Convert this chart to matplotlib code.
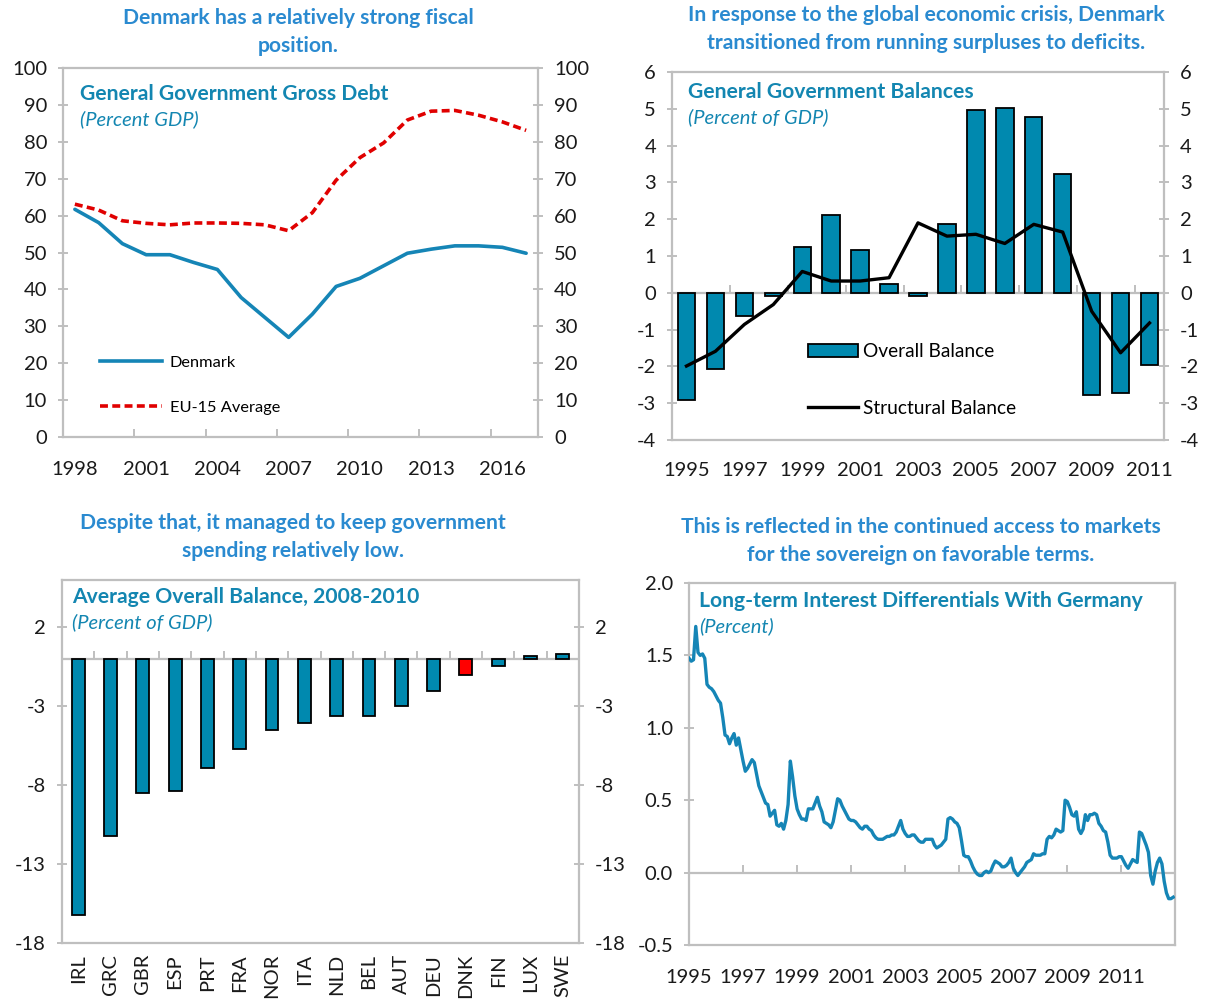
import matplotlib

matplotlib.use("Agg")
import matplotlib.pyplot as plt
import numpy as np
from matplotlib.lines import Line2D
from matplotlib.patches import Patch

plt.rcParams["font.family"] = ["Lato", "DejaVu Sans"]
plt.rcParams["axes.unicode_minus"] = False

W, H = 1210, 999

HEAD_BLUE = "#2A8AD0"
SUB_BLUE = "#1386B1"
BAR_TEAL = "#0089AF"
LINE_BLUE = "#1585B6"
FRAME = "#BFBFBF"
TEXT = "#1A1A1A"

# --- top left: gross debt
debt_years = list(range(1998, 2018))
debt_denmark = [61.7, 58.1, 52.4, 49.4, 49.4, 47.3, 45.4, 37.8, 32.4, 27.0,
                33.3, 40.8, 43.0, 46.4, 49.8, 50.9, 51.8, 51.8, 51.4, 49.8]
debt_eu15 = [63.1, 61.5, 58.6, 57.9, 57.5, 58.0, 58.0, 57.9, 57.5, 55.9,
             60.8, 69.6, 75.7, 79.7, 85.9, 88.3, 88.5, 87.2, 85.4, 83.1]

# --- top right: balances
bal_years = list(range(1995, 2012))
bal_overall = [-2.92, -2.06, -0.63, -0.1, 1.25, 2.12, 1.15, 0.23, -0.08,
               1.88, 4.98, 5.03, 4.77, 3.24, -2.78, -2.72, -1.96]
bal_structural = [-1.99, -1.59, -0.86, -0.32, 0.58, 0.32, 0.32, 0.41, 1.90,
                  1.54, 1.59, 1.34, 1.86, 1.65, -0.50, -1.63, -0.82]

# --- bottom left: average overall balance 2008-2010
countries = ["IRL", "GRC", "GBR", "ESP", "PRT", "FRA", "NOR", "ITA",
             "NLD", "BEL", "AUT", "DEU", "DNK", "FIN", "LUX", "SWE"]
avg_balance = [-16.2, -11.2, -8.5, -8.35, -6.9, -5.7, -4.5, -4.05,
               -3.6, -3.6, -3.0, -2.05, -1.0, -0.45, 0.2, 0.3]
highlight = "DNK"

# --- bottom right: monthly spread vs Germany, 1995-2012
spread_start = 1995
spread = [
    1.48, 1.46, 1.47, 1.70, 1.52, 1.50, 1.51, 1.48, 1.30, 1.28, 1.27, 1.25,  # 1995
    1.22, 1.19, 1.17, 1.07, 0.95, 0.94, 0.89, 0.93, 0.96, 0.88, 0.93, 0.85,  # 1996
    0.77, 0.70, 0.72, 0.75, 0.78, 0.76, 0.68, 0.60, 0.56, 0.52, 0.48, 0.47,  # 1997
    0.39, 0.41, 0.43, 0.33, 0.32, 0.34, 0.30, 0.36, 0.47, 0.77, 0.66, 0.53,  # 1998
    0.44, 0.40, 0.37, 0.37, 0.36, 0.44, 0.44, 0.44, 0.48, 0.52, 0.46, 0.42,  # 1999
    0.35, 0.34, 0.33, 0.31, 0.35, 0.43, 0.51, 0.50, 0.46, 0.43, 0.40, 0.37,  # 2000
    0.36, 0.36, 0.35, 0.33, 0.31, 0.30, 0.32, 0.32, 0.30, 0.29, 0.26, 0.24,  # 2001
    0.23, 0.23, 0.23, 0.24, 0.25, 0.25, 0.26, 0.26, 0.28, 0.32, 0.36, 0.30,  # 2002
    0.27, 0.25, 0.25, 0.26, 0.26, 0.24, 0.22, 0.21, 0.21, 0.23, 0.23, 0.23,  # 2003
    0.23, 0.19, 0.17, 0.18, 0.19, 0.21, 0.23, 0.37, 0.38, 0.37, 0.35, 0.34,  # 2004
    0.31, 0.22, 0.12, 0.11, 0.11, 0.08, 0.04, 0.01, -0.01, -0.02, -0.02, 0.00,  # 2005
    0.01, 0.00, 0.01, 0.05, 0.08, 0.07, 0.06, 0.04, 0.04, 0.05, 0.07, 0.10,  # 2006
    0.03, 0.00, -0.02, 0.00, 0.02, 0.04, 0.07, 0.08, 0.09, 0.13, 0.12, 0.12,  # 2007
    0.12, 0.13, 0.13, 0.23, 0.25, 0.24, 0.26, 0.30, 0.29, 0.28, 0.29, 0.50,  # 2008
    0.49, 0.45, 0.40, 0.39, 0.42, 0.30, 0.27, 0.30, 0.40, 0.36, 0.40, 0.40,  # 2009
    0.41, 0.40, 0.34, 0.32, 0.29, 0.28, 0.21, 0.12, 0.10, 0.10, 0.10, 0.11,  # 2010
    0.11, 0.08, 0.05, 0.03, 0.06, 0.09, 0.08, 0.07, 0.28, 0.27, 0.23, 0.19,  # 2011
    0.14, -0.02, -0.08, 0.01, 0.07, 0.10, 0.06, -0.06, -0.14, -0.18, -0.18, -0.17,  # 2012
]
spread_label_years = list(range(1995, 2012, 2))


def add_axes_px(fig, left, top, right, bottom):
    return fig.add_axes([left / W, 1 - bottom / H, (right - left) / W, (bottom - top) / H])


def style_frame(ax, right_labels=True, xpad=16):
    for spine in ax.spines.values():
        spine.set_color(FRAME)
        spine.set_linewidth(1.6)
    ax.tick_params(axis="y", direction="inout", length=7, width=1.4, color=FRAME,
                   left=True, right=right_labels, labelleft=True, labelright=right_labels,
                   labelsize=14.5, labelcolor=TEXT, pad=8)
    ax.tick_params(axis="x", length=0, labelsize=14.5, labelcolor=TEXT, pad=xpad)


def zero_ticks(ax, xs):
    ax.plot(xs, np.zeros(len(xs)), linestyle="none", marker=2, markersize=6,
            markeredgewidth=1.4, color=FRAME, zorder=1, clip_on=False)


def panel_heading(ax, title, unit, x, y):
    ax.text(x, y, title, transform=ax.transAxes, fontsize=15.2, fontweight="bold",
            color=SUB_BLUE, ha="left", va="center")
    ax.text(x, y - 0.068, unit, transform=ax.transAxes, fontsize=14.5, style="italic",
            color=SUB_BLUE, ha="left", va="center")


fig = plt.figure(figsize=(W / 100, H / 100), dpi=100)

heading_kw = dict(fontsize=15.2, fontweight="bold", color=HEAD_BLUE, ha="center",
                  va="center", linespacing=1.45)
fig.text(298 / W, 1 - 32 / H, "Denmark has a relatively strong fiscal\nposition.", **heading_kw)
fig.text(926 / W, 1 - 29 / H, "In response to the global economic crisis, Denmark\n"
         "transitioned from running surpluses to deficits.", **heading_kw)
fig.text(293 / W, 1 - 537 / H, "Despite that, it managed to keep government\n"
         "spending relatively low.", **heading_kw)
fig.text(921 / W, 1 - 541 / H, "This is reflected in the continued access to markets\n"
         "for the sovereign on favorable terms.", **heading_kw)

# top left
ax = add_axes_px(fig, 63, 68, 538, 437)
x = np.arange(len(debt_years))
ax.plot(x, debt_denmark, color=LINE_BLUE, lw=2.6, solid_capstyle="round", zorder=3)
ax.plot(x, debt_eu15, color="#E00000", lw=2.6, linestyle=(0, (2.2, 1.2)), zorder=3)
ax.set_xlim(-0.5, len(debt_years) - 0.5)
ax.set_ylim(0, 100)
ax.set_yticks(range(0, 101, 10))
ax.set_xticks(x[::3])
ax.set_xticklabels([str(y) for y in debt_years[::3]])
style_frame(ax, xpad=17)
zero_ticks(ax, np.arange(2.5, len(debt_years) - 1, 3))
panel_heading(ax, "General Government Gross Debt", "(Percent GDP)", 0.036, 0.93)
handles = [Line2D([], [], color=LINE_BLUE, lw=2.6),
           Line2D([], [], color="#E00000", lw=2.6, linestyle=(0, (2.2, 1.2)))]
ax.legend(handles, ["Denmark", "EU-15 Average"], loc="center left",
          bbox_to_anchor=(0.078, 0.141), frameon=False, fontsize=11.8,
          handlelength=3.8, handletextpad=0.45, labelspacing=1.85,
          borderpad=0, borderaxespad=0)

# top right
ax = add_axes_px(fig, 672, 72, 1164, 440)
x = np.arange(len(bal_years))
ax.axhline(0, color=FRAME, lw=1.6, zorder=1)
zero_ticks(ax, np.arange(1.5, len(bal_years) - 1, 2))
ax.bar(x, bal_overall, width=0.6, color=BAR_TEAL, edgecolor="black", linewidth=1.3, zorder=2)
ax.plot(x, bal_structural, color="black", lw=2.4, zorder=3)
ax.set_xlim(-0.5, len(bal_years) - 0.5)
ax.set_ylim(-4, 6)
ax.set_yticks(range(-4, 7))
ax.set_xticks(x[::2])
ax.set_xticklabels([str(y) for y in bal_years[::2]])
style_frame(ax, xpad=16)
panel_heading(ax, "General Government Balances", "(Percent of GDP)", 0.033, 0.946)
handles = [Patch(facecolor=BAR_TEAL, edgecolor="black", linewidth=1.3),
           Line2D([], [], color="black", lw=2.4)]
ax.legend(handles, ["Overall Balance", "Structural Balance"], loc="center left",
          bbox_to_anchor=(0.276, 0.163), frameon=False, fontsize=13.8,
          handlelength=2.6, handletextpad=0.3, labelspacing=2.05,
          borderpad=0, borderaxespad=0)

# bottom left
ax = add_axes_px(fig, 62, 580, 579, 943)
x = np.arange(len(countries))
colors = ["#FF0000" if c == highlight else BAR_TEAL for c in countries]
ax.axhline(0, color=FRAME, lw=1.6, zorder=1)
zero_ticks(ax, np.arange(0.5, len(countries) - 1, 1))
ax.bar(x, avg_balance, width=0.4, color=colors, edgecolor="black", linewidth=1.3, zorder=2)
ax.set_xlim(-0.5, len(countries) - 0.5)
ax.set_ylim(-18, 5)
ax.set_yticks(range(-18, 3, 5))
ax.set_xticks(x)
ax.set_xticklabels(countries, rotation=90)
style_frame(ax, xpad=8)
panel_heading(ax, "Average Overall Balance, 2008-2010", "(Percent of GDP)", 0.02, 0.952)

# bottom right
ax = add_axes_px(fig, 689, 583, 1175, 945)
t = spread_start + np.arange(len(spread)) / 12
ax.axhline(0, color=FRAME, lw=1.6, zorder=1)
zero_ticks(ax, spread_label_years[1:])
ax.plot(t, spread, color=LINE_BLUE, lw=2.4, zorder=3)
ax.set_xlim(spread_start, spread_start + 215.8 / 12)
ax.set_ylim(-0.5, 2.0)
ax.set_yticks(np.arange(-0.5, 2.01, 0.5))
ax.set_yticklabels([f"{v:.1f}" for v in np.arange(-0.5, 2.01, 0.5)])
ax.set_xticks(spread_label_years)
ax.set_xticklabels([str(y) for y in spread_label_years])
style_frame(ax, right_labels=False, xpad=17)
panel_heading(ax, "Long-term Interest Differentials With Germany", "(Percent)", 0.02, 0.95)

fig.savefig("out.png", dpi=100)
